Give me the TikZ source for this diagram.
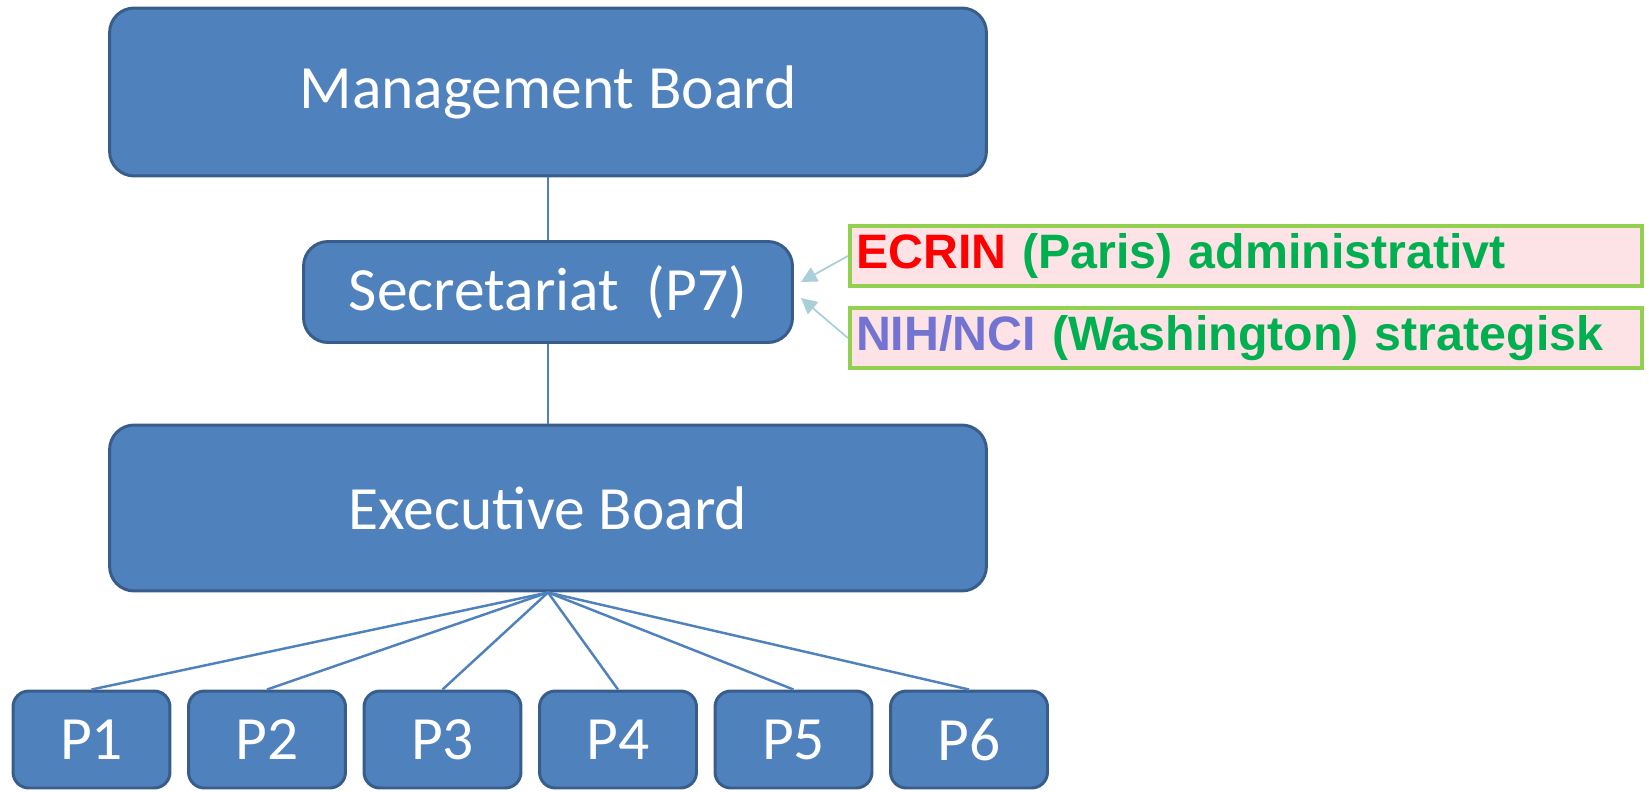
\documentclass[tikz,border=0pt]{standalone}
\usepackage{fontspec}
\setmainfont{Carlito}
\newfontfamily\labelfont{Liberation Sans}
\usetikzlibrary{arrows.meta}
\definecolor{boxblue}{HTML}{4F81BD}
\definecolor{boxedge}{HTML}{385D8A}
\definecolor{tagpink}{HTML}{FDE2E6}
\definecolor{tagedge}{HTML}{92D050}
\definecolor{taggreen}{HTML}{00B050}
\definecolor{tagred}{HTML}{FF0000}
\definecolor{tagpurple}{HTML}{7373D2}
\definecolor{arrowblue}{HTML}{A9D0D8}
\begin{document}
\begin{tikzpicture}[x=0.02cm, y=-0.02cm]
\tikzstyle{board}=[draw=boxedge, fill=boxblue, line width=1.7pt, rounded corners=14pt,
    text=white, font=\fontsize{35}{40}\selectfont, inner sep=0pt]
\tikzstyle{part}=[board, rounded corners=9pt, minimum width=3.14cm, minimum height=1.94cm]
\tikzstyle{tag}=[draw=tagedge, fill=tagpink, line width=2.5pt, inner sep=0pt,
    text width=15.6cm, inner xsep=0.12cm, align=left, minimum height=1.2cm,
    font=\labelfont\bfseries\fontsize{27.5}{32}\selectfont, text=taggreen]
\tikzstyle{link}=[draw=boxblue, line width=1.4pt]
\tikzstyle{hint}=[draw=arrowblue, line width=1pt, -{Triangle[length=9pt, width=9pt]}]

\useasboundingbox (0,0) rectangle (1649,791);

% boards
\node (mb) at (548,92) [board, minimum width=17.54cm, minimum height=3.36cm] {Management Board};
\node (sec) at (548,292) [board, minimum width=9.78cm, minimum height=2.02cm] {Secretariat\ \ (P7)};
\node (eb) at (548,508) [board, minimum width=17.54cm, minimum height=3.32cm] {Executive Board};

% partners
\foreach \i in {1,...,6}
    \node (p\i) at ({91.5+175.5*(\i-1)}, 739.5) [part] {P\i};

\draw [link] (mb) -- (sec);
\draw [link] (sec) -- (eb);
\foreach \i in {1,...,6}
    \draw [link] (eb.south) -- (p\i.north);

% side notes
\node (ecrin) at (1246,256) [tag] {\textcolor{tagred}{ECRIN} (Paris) administrativt};
\node (nih) at (1246,338) [tag] {\textcolor{tagpurple}{NIH/NCI} (Washington) strategisk};

\coordinate (in1) at (801,282);
\coordinate (in2) at (801,298);
\draw [hint] (ecrin.west) -- (in1);
\draw [hint] (nih.west) -- (in2);

\end{tikzpicture}
\end{document}
